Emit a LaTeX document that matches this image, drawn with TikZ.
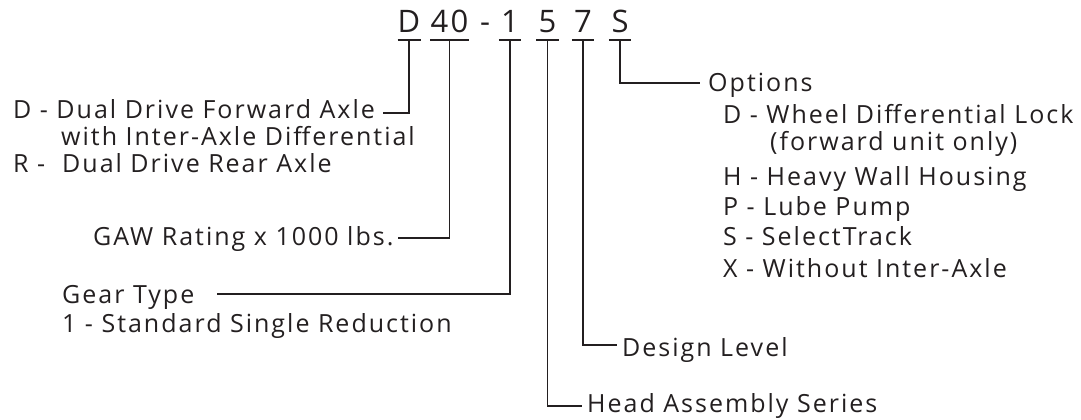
\documentclass[tikz,border=0pt]{standalone}
\usepackage{fontspec}
\setmainfont{Open Sans}[LetterSpace=8]
\usetikzlibrary{positioning, calc}
\definecolor{ink}{RGB}{35,31,32}

\begin{document}
\begin{tikzpicture}[x=1pt, y=-1pt,
    every node/.style={inner sep=0pt, text=ink},
    code/.style={font=\fontsize{31}{36}\selectfont, anchor=base, minimum width=22pt},
    lbl/.style={font=\fontsize{25}{30}\selectfont, anchor=base west},
    link/.style={draw=ink, line width=1.2pt}]
        \useasboundingbox (0,0) rectangle (1081,420);
        % model code
        \node[code] (cD) at (409,33) {D};
        \node[code] (c40) at (449.5,33) {40};
        \node[code, minimum width=0pt] (cdash) at (485,33) {-};
        \node[code] (c1) at (510,33) {1};
        \node[code] (c5) at (547.5,33) {5};
        \node[code] (c7) at (583,33) {7};
        \node[code] (cS) at (620,33) {S};
        \foreach \c in {cD, c40, c1, c5, c7, cS}
            \draw[link] ([yshift=-7pt]\c.base west) -- ([yshift=-7pt]\c.base east);
        % left labels
        \node[lbl] (dual) at (13,118) {D - Dual Drive Forward Axle};
        \node[lbl, below=27pt of dual.base west, anchor=base west, xshift=48pt] (inter) {with Inter-Axle Differential};
        \node[lbl] (rear) at (13,172) {R -\ \ Dual Drive Rear Axle};
        \node[lbl] (gaw) at (93,245) {GAW Rating x 1000 lbs.};
        \node[lbl] (gear) at (62,303) {Gear Type};
        \node[lbl, below=29pt of gear.base west, anchor=base west] (std) {1 - Standard Single Reduction};
        % right labels
        \node[lbl] (opts) at (708,92) {Options};
        \node[lbl] (wheel) at (723,123) {D - Wheel Differential Lock};
        \node[lbl] (fwd) at (770,150) {(forward unit only)};
        \node[lbl] (heavy) at (723,185) {H - Heavy Wall Housing};
        \node[lbl] (lube) at (723,215) {P - Lube Pump};
        \node[lbl] (track) at (723,245) {S - SelectTrack};
        \node[lbl] (noint) at (723,277) {X - Without Inter-Axle};
        \node[lbl] (design) at (622,356) {Design Level};
        \node[lbl] (head) at (587,412) {Head Assembly Series};
        % connectors
        \draw[link] ([yshift=-7pt]cD.base) |- ([xshift=8pt, yshift=5pt]dual.base east);
        \draw[link] ([yshift=-7pt]c40.base) |- ([xshift=4pt, yshift=7pt]gaw.base east);
        \draw[link] ([yshift=-7pt]c1.base) |- ([xshift=22pt, yshift=9pt]gear.base east);
        \draw[link] ([yshift=-7pt]c5.base) |- ([xshift=-5pt, yshift=6pt]head.base west);
        \draw[link] ([yshift=-7pt]c7.base) |- ([xshift=-5pt, yshift=11pt]design.base west);
        \draw[link] ([yshift=-7pt]cS.base) |- ([xshift=-8pt, yshift=9pt]opts.base west);
\end{tikzpicture}
\end{document}
